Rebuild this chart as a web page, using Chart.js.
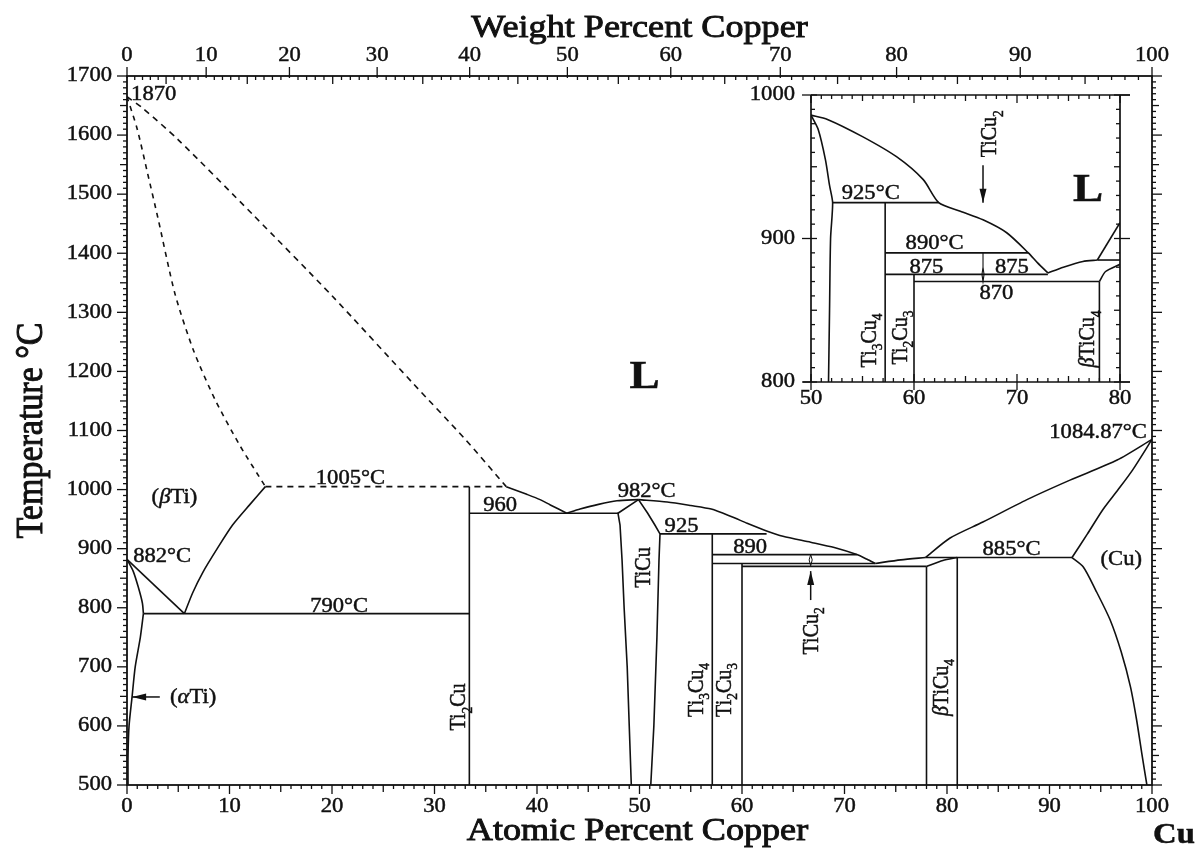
<!DOCTYPE html>
<html>
<head>
<meta charset="utf-8">
<title>Ti-Cu phase diagram</title>
<script src="https://cdn.jsdelivr.net/npm/chart.js@4.4.1/dist/chart.umd.min.js"></script>
<style>
  html, body { margin: 0; padding: 0; background: #fff; }
  #wrap { position: relative; width: 1196px; height: 848px; }
  #main { position: absolute; left: 0; top: 0; }
  #inset { position: absolute; left: 740px; top: 80px; }
</style>
</head>
<body>
<div id="wrap">
  <canvas id="main" width="1196" height="848"></canvas>
  <canvas id="inset" width="425" height="330"></canvas>
</div>
<script>
// ---- data: [atomic % Cu, temperature °C] ----
const atTicks = [0, 10, 20, 30, 40, 50, 60, 70, 80, 90, 100];
const wtTicks = [0, 10, 20, 30, 40, 50, 60, 70, 80, 90, 100];
const tempTicks = [500, 600, 700, 800, 900, 1000, 1100, 1200, 1300, 1400, 1500, 1600, 1700];
const insetXTicks = [50, 60, 70, 80];
const insetYTicks = [800, 900, 1000];

// dashed (estimated) boundaries
const liqUpper = [[0, 1665], [1.5, 1646], [5, 1592], [12.3, 1465], [20, 1328], [28, 1178], [33, 1085], [37, 1005]];
const liqLower = [[0, 1665], [1, 1610], [2, 1536], [3, 1461], [4.7, 1330], [6.5, 1235], [8.6, 1152], [11, 1075], [13.5, 1005]];
const peri1005 = [[13.5, 1005], [37, 1005]];

// Ti-rich side
const betaSolvus = [[13.5, 1005], [12, 975], [10.3, 940], [8.8, 900], [7.4, 860], [6.4, 825], [5.6, 790]];
const betaToEutectoid = [[0, 882], [5.6, 790]];
const alphaBeta = [[0, 882], [0.6, 862], [1.1, 835], [1.5, 808], [1.6, 790]];
const alphaSolvus = [[1.6, 790], [1.3, 750], [0.8, 700], [0.5, 650], [0.2, 600], [0.1, 550], [0.1, 500]];
const eutectoid790 = [[1.6, 790], [33.4, 790]];
const ti2cu = [[33.4, 500], [33.4, 1005]];
const eutectic960 = [[33.4, 960], [47.9, 960]];
const liqMid = [[37, 1005], [39, 992], [40.3, 983], [41.3, 974], [42.9, 960]];
const liqToTiCu = [[42.9, 960], [44.2, 967], [46, 975], [47.8, 981], [49.9, 983]];
const liqRight = [[49.9, 983], [52.7, 979], [55, 973], [57, 967], [59, 954], [60.5, 943], [62.4, 930],
  [64, 921], [66.7, 911], [69, 902], [71.2, 890], [72.2, 882], [73, 875]];

// TiCu and the intermetallics
const ticuLeft = [[49.2, 500], [49.0, 600], [48.8, 700], [48.5, 800], [48.3, 880], [48.1, 940], [47.9, 960], [49.9, 983]];
const ticuRight = [[49.9, 983], [50.8, 960], [51.5, 940], [52, 925], [51.9, 880], [51.7, 750], [51.4, 600], [51.1, 500]];
const peri925 = [[52, 925], [62.4, 925]];
const ti3cu4 = [[57.1, 500], [57.1, 925]];
const peri890 = [[57.1, 890], [71.2, 890]];
const eut875 = [[57.1, 875], [73, 875]];
const ti2cu3 = [[60, 500], [60, 875]];
const line870 = [[60, 870], [78, 870]];
const ticu2 = [[66.7, 890], [66.55, 881], [66.7, 871], [66.85, 881], [66.7, 890]];
const tiCu4Left = [[78, 500], [78, 870]];
const tiCu4Right = [[81, 500], [81, 885]];
const tiCu4Top = [[78, 870], [79.6, 880], [81, 885]];

// Cu-rich side
const liqEutRise = [[73, 875], [75.5, 881], [77.9, 885]];
const peri885 = [[77.9, 885], [92.2, 885]];
const liqCu = [[77.9, 885], [80.3, 918], [83.5, 945], [87.8, 983], [92, 1016], [96.6, 1050], [100, 1085]];
const solCu = [[92.2, 885], [93.7, 925], [95.2, 966], [96.7, 1000], [98.1, 1033], [100, 1085]];
const solvusCu = [[92.2, 885], [93.3, 869], [94.5, 830], [95.9, 780], [97, 725], [97.9, 666], [98.5, 610], [99, 554], [99.5, 500]];

// inset (50-80 at.%, 800-1000 °C)
const inLiq = [[50, 986], [51.6, 983], [55, 971], [58.3, 957], [60.9, 941], [62.4, 925], [64.5, 919], [66.7, 913],
  [69, 904], [71.1, 890], [72, 883], [73, 876]];
const inTiCu = [[50, 986], [50.7, 976], [51.4, 955], [51.8, 937], [52.1, 925], [51.9, 900], [51.8, 850], [51.7, 800]];
const in925 = [[52.1, 925], [62.4, 925]];
const inTi3Cu4 = [[57.2, 800], [57.2, 925]];
const in890 = [[57.2, 890], [71.1, 890]];
const in875 = [[57.2, 875], [73, 875]];
const inTi2Cu3 = [[60, 800], [60, 875]];
const in870 = [[60, 870], [78, 870]];
const inTiCu4 = [[78, 800], [78, 870]];
const inTiCu4Top = [[78, 870], [78.6, 877], [80, 882]];
const inLiqRise = [[73, 876], [74.5, 880], [76.4, 884], [77.8, 885]];
const inLiqCu = [[77.8, 885], [80, 911]];
const in885 = [[77.8, 885], [80, 885]];
const inTiCu2 = [[66.7, 890], [66.7, 880], [66.6, 875], [66.7, 870], [66.8, 875], [66.7, 880]];

// ---- labels ----
const mainNotes = [
  { t: '1870', at: [0.4, 1659], align: 'left' },
  { t: '(*β*Ti)', at: [2.4, 978], align: 'left' },
  { t: '882°C', at: [0.6, 878], align: 'left' },
  { t: '1005°C', at: [21.8, 1010] },
  { t: '790°C', at: [20.7, 792] },
  { t: '(*α*Ti)', at: [4.2, 648], align: 'left', base: 'middle' },
  { t: '960', at: [36.4, 964] },
  { t: '982°C', at: [50.7, 988] },
  { t: '925', at: [54.1, 928] },
  { t: '890', at: [60.8, 893] },
  { t: '885°C', at: [86.3, 890] },
  { t: '(Cu)', at: [97, 881], base: 'middle' },
  { t: '1084.87°C', at: [99.5, 1088], align: 'right' },
  { t: 'L', at: [50.5, 1172], size: 40, bold: true },
  { t: 'TiCu', at: [51.0, 868], rot: true },
  { t: 'Ti_2Cu', at: [33.0, 632], rot: true },
  { t: 'Ti_3Cu_4', at: [56.2, 661], rot: true },
  { t: 'Ti_2Cu_3', at: [58.9, 661], rot: true },
  { t: 'TiCu_2', at: [67.4, 761], rot: true },
  { t: '*β*TiCu_4', at: [80.1, 665], rot: true }
];
const mainArrows = [{ from: [3.2, 649], to: [0.5, 649] }, { from: [66.7, 813], to: [66.7, 862] }];

const insetNotes = [
  { t: '925°C', at: [55.8, 927.5] },
  { t: '890°C', at: [62.0, 892.7] },
  { t: '875', at: [61.2, 876] },
  { t: '875', at: [69.5, 876] },
  { t: '870', at: [68.0, 858] },
  { t: 'L', at: [76.9, 926], size: 40, bold: true },
  { t: 'TiCu_2', at: [68.0, 973], rot: true },
  { t: 'Ti_3Cu_4', at: [56.3, 829], rot: true },
  { t: 'Ti_2Cu_3', at: [59.3, 831], rot: true },
  { t: '*β*TiCu_4', at: [77.5, 830], rot: true }
];
const insetArrows = [{ from: [66.7, 951], to: [66.7, 925] }];

// ---- helpers ----
const INK = '#111';
const SERIF = '"Liberation Serif", "Times New Roman", serif';
const SX = 1.13; // the original lettering is a little wide

// weight % Cu -> atomic % Cu, for placing the top axis
const wtToAt = w => {
  const cu = w / 63.546, ti = (100 - w) / 47.867;
  return 100 * cu / (cu + ti);
};

function seg(points, opts = {}) {
  return {
    data: points.map(([x, y]) => ({ x, y })),
    borderColor: INK,
    borderWidth: opts.w || 1.6,
    borderDash: opts.dash || [],
    tension: opts.smooth ? 0.25 : 0,
    pointRadius: 0,
    fill: false
  };
}

function parts(str) {
  const out = [];
  str.replace(/_(\d)|\*([^*]+)\*|([^_*]+)/g, (m, sub, it, plain) => {
    if (sub) out.push([sub, 'sub']);
    else if (it) out.push([it, 'it']);
    else out.push([plain, '']);
  });
  return out;
}

function txt(ctx, str, x, y, o = {}) {
  const size = o.size || 20;
  const list = parts(str);
  const fontFor = s => (s === 'it' ? 'italic ' : '') + (o.bold ? 'bold ' : '') +
    (s === 'sub' ? size * 0.68 : size) + 'px ' + SERIF;
  ctx.save();
  ctx.translate(x, y);
  ctx.scale(SX, 1);
  if (o.rot) ctx.rotate(-Math.PI / 2);
  let total = 0;
  for (const [t, s] of list) { ctx.font = fontFor(s); total += ctx.measureText(t).width; }
  let cx = o.align === 'left' ? 0 : o.align === 'right' ? -total : -total / 2;
  ctx.textAlign = 'left';
  ctx.textBaseline = o.base || 'alphabetic';
  ctx.fillStyle = INK;
  ctx.strokeStyle = INK;
  ctx.lineWidth = o.heavy || 0.45;
  for (const [t, s] of list) {
    ctx.font = fontFor(s);
    const dy = s === 'sub' ? size * 0.28 : 0;
    ctx.fillText(t, cx, dy);
    ctx.strokeText(t, cx, dy);
    cx += ctx.measureText(t).width;
  }
  ctx.restore();
}

function line(ctx, x1, y1, x2, y2) {
  ctx.beginPath(); ctx.moveTo(x1, y1); ctx.lineTo(x2, y2); ctx.stroke();
}

function arrow(ctx, x1, y1, x2, y2) {
  const ang = Math.atan2(y2 - y1, x2 - x1);
  line(ctx, x1, y1, x2, y2);
  ctx.save();
  ctx.translate(x2, y2);
  ctx.rotate(ang);
  ctx.beginPath();
  ctx.moveTo(0, 0); ctx.lineTo(-14, -3.5); ctx.lineTo(-14, 3.5); ctx.closePath();
  ctx.fill();
  ctx.restore();
}

function drawNotes(chart, notes, arrows) {
  const { ctx, scales: { x, y } } = chart;
  for (const n of notes) {
    txt(ctx, n.t, x.getPixelForValue(n.at[0]), y.getPixelForValue(n.at[1]), n);
  }
  ctx.fillStyle = INK; ctx.strokeStyle = INK; ctx.lineWidth = 1.5;
  for (const a of arrows) {
    arrow(ctx, x.getPixelForValue(a.from[0]), y.getPixelForValue(a.from[1]),
      x.getPixelForValue(a.to[0]), y.getPixelForValue(a.to[1]));
  }
}

// ---- main frame: four axes, titles, labels ----
const mainFrame = {
  id: 'mainFrame',
  afterDatasetsDraw(chart) {
    const { ctx, chartArea: a, scales: { x, y } } = chart;
    ctx.save();
    ctx.strokeStyle = INK;
    ctx.lineWidth = 1.8;
    ctx.strokeRect(a.left, a.top, a.right - a.left, a.bottom - a.top);
    ctx.lineWidth = 1.3;
    for (let v = 0; v <= 100; v++) {
      const p = x.getPixelForValue(v);
      line(ctx, p, a.bottom, p, a.bottom + (v % 10 === 0 ? 9 : v % 5 === 0 ? 7 : 4));
    }
    for (let w = 0; w <= 100; w++) {
      const p = x.getPixelForValue(wtToAt(w));
      if (w % 10 === 0) line(ctx, p, a.top - 9, p, a.top + 2);
      else line(ctx, p, a.top, p, a.top + (w % 5 === 0 ? 8 : 4));
    }
    for (let t = 500; t <= 1700; t += 10) {
      const p = y.getPixelForValue(t);
      const len = t % 100 === 0 ? 10 : t % 50 === 0 ? 7 : 4;
      line(ctx, a.left - len, p, a.left, p);
      line(ctx, a.right, p, a.right + len, p);
    }
    for (const v of atTicks) txt(ctx, String(v), x.getPixelForValue(v), a.bottom + 22, { base: 'middle' });
    for (const w of wtTicks) txt(ctx, String(w), x.getPixelForValue(wtToAt(w)), a.top - 20, { base: 'middle' });
    for (const t of tempTicks) txt(ctx, String(t), a.left - 15, y.getPixelForValue(t), { base: 'middle', align: 'right' });

    const mid = (a.left + a.right) / 2;
    txt(ctx, 'Weight Percent Copper', mid, a.top - 39, { size: 32, heavy: 0.9 });
    txt(ctx, 'Atomic Percent Copper', mid - 2, a.bottom + 55, { size: 32, heavy: 0.9 });
    txt(ctx, 'Temperature °C', 42, (a.top + a.bottom) / 2, { size: 34, rot: true, heavy: 0.9 });
    txt(ctx, 'Cu', a.right + 1, a.bottom + 58, { size: 29, bold: true, align: 'left' });

    drawNotes(chart, mainNotes, mainArrows);
    ctx.restore();
  }
};

// ---- inset frame ----
const insetFrame = {
  id: 'insetFrame',
  afterDatasetsDraw(chart) {
    const { ctx, chartArea: a, scales: { x, y } } = chart;
    ctx.save();
    ctx.strokeStyle = INK;
    ctx.lineWidth = 1.7;
    line(ctx, a.left, a.top, a.right + 10, a.top);
    line(ctx, a.left - 8, a.bottom, a.right + 10, a.bottom);
    line(ctx, a.left, a.top, a.left, a.bottom);
    line(ctx, a.right, a.top, a.right, a.bottom);
    ctx.lineWidth = 1.3;
    for (let v = 50; v <= 80; v++) {
      const p = x.getPixelForValue(v);
      const len = v % 10 === 0 ? 8 : v % 5 === 0 ? 6 : 4;
      line(ctx, p, a.top, p, a.top + len);
      if (v % 10 === 0) line(ctx, p, a.bottom - 8, p, a.bottom + 8);
      else line(ctx, p, a.bottom, p, a.bottom - len);
    }
    for (let t = 800; t <= 1000; t += 10) {
      const p = y.getPixelForValue(t);
      if (t % 100 === 0) {
        line(ctx, a.left - 9, p, a.left + 6, p);
        line(ctx, a.right - 6, p, a.right + 10, p);
      } else {
        const len = t % 50 === 0 ? 6 : 4;
        line(ctx, a.left, p, a.left + len, p);
        line(ctx, a.right - len, p, a.right, p);
      }
    }
    for (const v of insetXTicks) txt(ctx, String(v), x.getPixelForValue(v), a.bottom + 17, { base: 'middle' });
    for (const t of insetYTicks) txt(ctx, String(t), a.left - 16, y.getPixelForValue(t), { base: 'middle', align: 'right' });

    drawNotes(chart, insetNotes, insetArrows);
    ctx.restore();
  }
};

const DASH = [6, 5];
const mainLines = [
  seg(liqUpper, { dash: DASH, smooth: true }),
  seg(liqLower, { dash: [5, 5], smooth: true }),
  seg(peri1005, { dash: DASH }),
  seg(betaSolvus, { smooth: true }),
  seg(betaToEutectoid),
  seg(alphaBeta, { smooth: true }),
  seg(alphaSolvus, { smooth: true }),
  seg(eutectoid790),
  seg(ti2cu),
  seg(eutectic960),
  seg(liqMid, { smooth: true }),
  seg(liqToTiCu, { smooth: true }),
  seg(liqRight, { smooth: true }),
  seg(ticuLeft),
  seg(ticuRight),
  seg(peri925),
  seg(ti3cu4),
  seg(peri890),
  seg(eut875),
  seg(ti2cu3),
  seg(line870),
  seg(ticu2, { w: 1 }),
  seg(tiCu4Left),
  seg(tiCu4Right),
  seg(tiCu4Top, { smooth: true }),
  seg(liqEutRise, { smooth: true }),
  seg(peri885),
  seg(liqCu, { smooth: true }),
  seg(solCu, { smooth: true }),
  seg(solvusCu, { smooth: true })
];

const insetLines = [
  seg(inLiq, { smooth: true }),
  seg(inTiCu, { smooth: true }),
  seg(in925),
  seg(inTi3Cu4),
  seg(in890),
  seg(in875),
  seg(inTi2Cu3),
  seg(in870),
  seg(inTiCu4),
  seg(inTiCu4Top, { smooth: true }),
  seg(inLiqRise, { smooth: true }),
  seg(inLiqCu),
  seg(in885),
  seg(inTiCu2, { w: 1.1 })
];

const baseOptions = (pad, xr, yr) => ({
  responsive: false,
  animation: false,
  layout: { padding: pad },
  scales: {
    x: { type: 'linear', min: xr[0], max: xr[1], display: false },
    y: { type: 'linear', min: yr[0], max: yr[1], display: false }
  },
  plugins: { legend: { display: false }, tooltip: { enabled: false } }
});

new Chart(document.getElementById('main'), {
  type: 'line',
  data: { datasets: mainLines },
  options: baseOptions({ left: 127, right: 44, top: 76, bottom: 63 }, [0, 100], [500, 1700]),
  plugins: [mainFrame]
});

new Chart(document.getElementById('inset'), {
  type: 'line',
  data: { datasets: insetLines },
  options: baseOptions({ left: 71, right: 45, top: 15, bottom: 28 }, [50, 80], [800, 1000]),
  plugins: [insetFrame]
});
</script>
</body>
</html>
